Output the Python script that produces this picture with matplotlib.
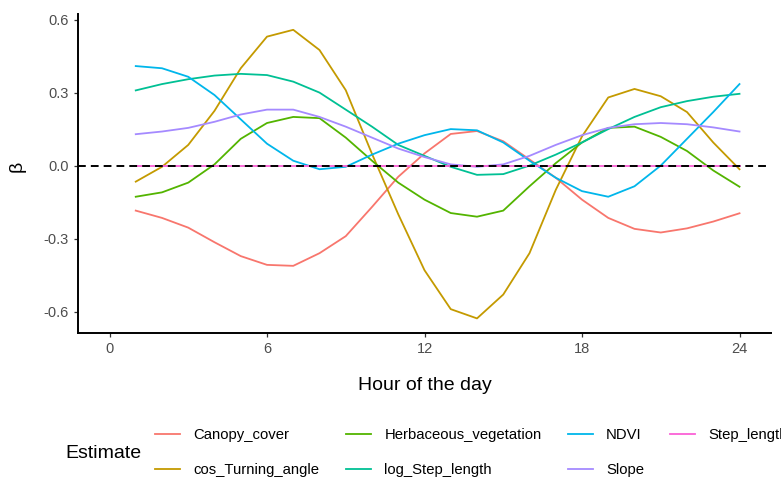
import matplotlib
matplotlib.use("Agg")
import matplotlib.pyplot as plt
from matplotlib.lines import Line2D

plt.rcParams['font.family'] = ['Liberation Sans', 'DejaVu Sans']

# --- data (hourly model estimates) ---
hours = list(range(1, 25))

canopy_cover = [-0.185, -0.215, -0.255, -0.315, -0.372, -0.408, -0.412, -0.36,
                -0.29, -0.17, -0.046, 0.05, 0.13, 0.142, 0.10, 0.025,
                -0.05, -0.14, -0.215, -0.26, -0.275, -0.258, -0.23, -0.196]
cos_turning_angle = [-0.066, -0.005, 0.085, 0.225, 0.40, 0.53, 0.558, 0.475,
                     0.31, 0.048, -0.20, -0.43, -0.59, -0.628, -0.53, -0.36,
                     -0.10, 0.12, 0.28, 0.315, 0.285, 0.22, 0.095, -0.015]
herbaceous_vegetation = [-0.128, -0.11, -0.07, 0.005, 0.11, 0.175, 0.20, 0.195,
                         0.115, 0.02, -0.07, -0.14, -0.195, -0.21, -0.185, -0.085,
                         0.01, 0.095, 0.155, 0.16, 0.118, 0.06, -0.02, -0.087]
log_step_length = [0.309, 0.335, 0.355, 0.37, 0.377, 0.372, 0.345, 0.30,
                   0.23, 0.16, 0.085, 0.04, -0.005, -0.038, -0.035, 0.0,
                   0.045, 0.095, 0.15, 0.20, 0.24, 0.265, 0.283, 0.295]
ndvi = [0.409, 0.40, 0.365, 0.29, 0.19, 0.09, 0.02, -0.015,
        -0.005, 0.045, 0.09, 0.125, 0.15, 0.145, 0.095, 0.02,
        -0.05, -0.105, -0.128, -0.085, 0.0, 0.11, 0.22, 0.335]
slope = [0.129, 0.14, 0.155, 0.18, 0.21, 0.23, 0.23, 0.20,
         0.16, 0.115, 0.07, 0.035, 0.005, -0.005, 0.005, 0.04,
         0.085, 0.125, 0.155, 0.17, 0.175, 0.17, 0.157, 0.14]
step_length = [0.0] * 24

estimates = ["Canopy_cover", "cos_Turning_angle", "Herbaceous_vegetation",
             "log_Step_length", "NDVI", "Slope", "Step_length"]
series = [canopy_cover, cos_turning_angle, herbaceous_vegetation,
          log_step_length, ndvi, slope, step_length]
colors = ["#F8766D", "#C49A00", "#53B400", "#00C094", "#00B6EB", "#A58AFF", "#FB61D7"]

x_ticks = [0, 6, 12, 18, 24]
y_ticks = [-0.6, -0.3, 0.0, 0.3, 0.6]

# --- figure ---
fig = plt.figure(figsize=(7.81, 4.79), dpi=100)
ax = fig.add_axes([78 / 781, 1 - 333 / 479, (771 - 78) / 781, (333 - 14) / 479])

for name, vals, col in zip(estimates, series, colors):
    ax.plot(hours, vals, color=col, linewidth=1.3, solid_joinstyle='round', label=name)

ax.axhline(0, color='black', linewidth=1.4, dashes=(4.0, 2.6), zorder=5)

ax.set_xlim(-1.2, 25.2)
ax.set_ylim(-0.688, 0.623)
ax.set_xticks(x_ticks)
ax.set_xticklabels([str(t) for t in x_ticks])
ax.set_yticks(y_ticks)
ax.set_yticklabels([f"{t:.1f}" for t in y_ticks])

for side in ['top', 'right']:
    ax.spines[side].set_visible(False)
for side in ['left', 'bottom']:
    ax.spines[side].set_linewidth(1.4)
    ax.spines[side].set_color('black')
ax.tick_params(length=3.2, width=0.9, color='#333333', labelcolor='#4D4D4D',
               labelsize=10.5, pad=3.5)

fig.text(424.5 / 781, 1 - 386 / 479, "Hour of the day", ha='center', va='center', fontsize=14)
fig.text(17 / 781, 1 - 166 / 479, "β", ha='center', va='center', fontsize=14, rotation=90)

# --- legend at the bottom, title on the left ---
fig.text(65 / 781, 1 - 453 / 479, "Estimate", ha='left', va='center', fontsize=14)
handles = [Line2D([], [], color=c, linewidth=1.3) for c in colors]
fig.legend(handles, estimates, loc='upper left', bbox_to_anchor=(155 / 781, 1 - 428 / 479),
           ncol=4, frameon=False, fontsize=10.7, handlelength=1.7, handletextpad=0.9,
           columnspacing=1.75, labelspacing=1.42, borderpad=0, borderaxespad=0)

fig.savefig("out.png", dpi=100)
